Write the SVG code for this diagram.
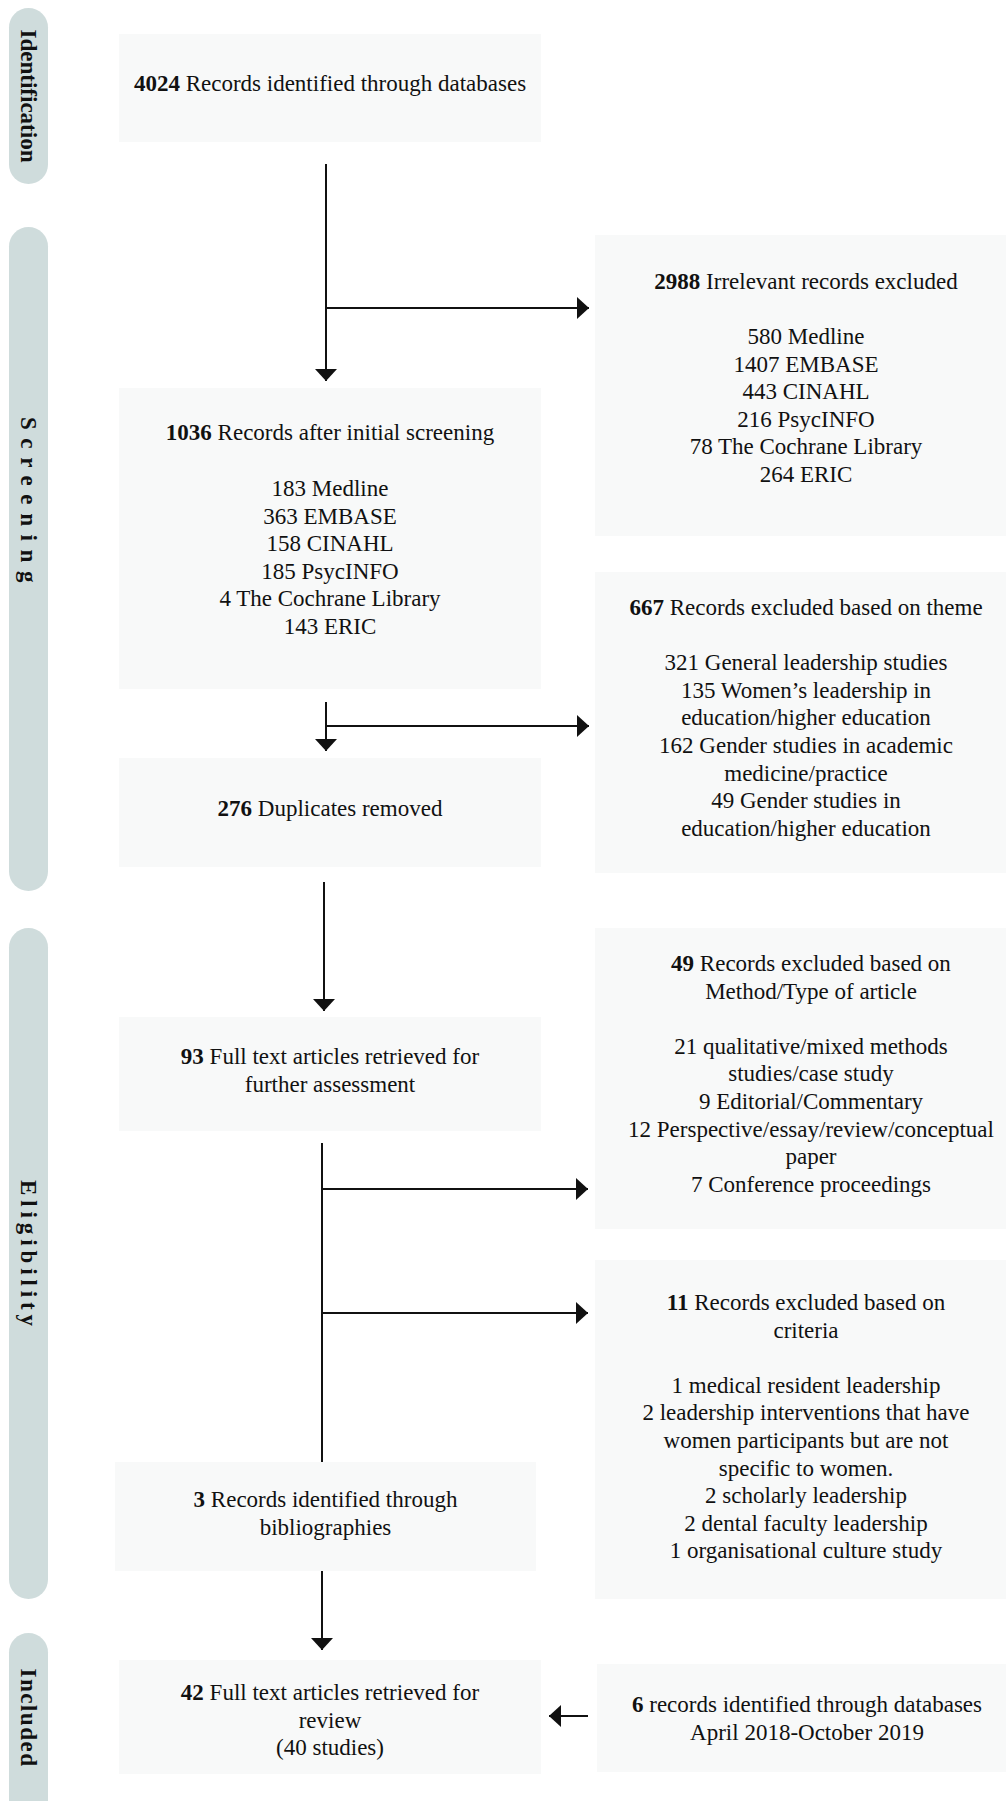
<svg xmlns="http://www.w3.org/2000/svg" width="1006" height="1801" viewBox="0 0 1006 1801">
<style>
.bg{fill:#ffffff}
.pill{fill:#cfdcdc}
.box{fill:#f8f9f9}
text{font-family:"Liberation Serif","Times New Roman",serif;font-size:23px;fill:#111}
.c{text-anchor:middle}
.b{font-weight:bold}
.lbl{font-family:"Liberation Serif","Times New Roman",serif;font-size:23px;font-weight:bold;text-anchor:middle;fill:#111}
.ln{stroke:#111;stroke-width:2;fill:none}
.ah{fill:#111}
</style>
<defs>
<marker id="arr" viewBox="0 0 12 22" refX="12" refY="11" markerWidth="12" markerHeight="22" markerUnits="userSpaceOnUse" orient="auto">
<path d="M0,0 L12,11 L0,22 Z" class="ah"/>
</marker>
</defs>
<rect class="bg" x="0" y="0" width="1006" height="1801"/>

<g id="phase-identification">
<rect class="pill" x="9" y="8" width="39" height="176" rx="19.5"/>
<text class="lbl" transform="translate(29,96) rotate(90)" x="0" y="8">Identification</text>
</g>
<g id="phase-screening">
<rect class="pill" x="9" y="227" width="39" height="664" rx="19.5"/>
<text class="lbl" transform="translate(29,500) rotate(90)" x="4" y="8" letter-spacing="8.6">Screening</text>
</g>
<g id="phase-eligibility">
<rect class="pill" x="9" y="928" width="39" height="671" rx="19.5"/>
<text class="lbl" transform="translate(29,1253) rotate(90)" x="2.5" y="8" letter-spacing="4.9">Eligibility</text>
</g>
<g id="phase-included">
<rect class="pill" x="9" y="1633" width="39" height="190" rx="19.5"/>
<text class="lbl" transform="translate(29,1717) rotate(90)" x="1" y="8" letter-spacing="1.5">Included</text>
</g>

<g id="n-identified">
<rect class="box" x="119" y="34" width="422" height="108"/>
<text class="c" x="330" y="91"><tspan class="b">4024</tspan> Records identified through databases</text>
</g>

<g id="n-irrelevant">
<rect class="box" x="595" y="235" width="411" height="301"/>
<text class="c" x="806" y="289"><tspan class="b">2988</tspan> Irrelevant records excluded</text>
<text class="c" x="806" y="344">580 Medline</text>
<text class="c" x="806" y="372">1407 EMBASE</text>
<text class="c" x="806" y="399">443 CINAHL</text>
<text class="c" x="806" y="427">216 PsycINFO</text>
<text class="c" x="806" y="454">78 The Cochrane Library</text>
<text class="c" x="806" y="482">264 ERIC</text>
</g>

<g id="n-screened">
<rect class="box" x="119" y="388" width="422" height="301"/>
<text class="c" x="330" y="440"><tspan class="b">1036</tspan> Records after initial screening</text>
<text class="c" x="330" y="496">183 Medline</text>
<text class="c" x="330" y="523.6">363 EMBASE</text>
<text class="c" x="330" y="551.2">158 CINAHL</text>
<text class="c" x="330" y="578.8">185 PsycINFO</text>
<text class="c" x="330" y="606.4">4 The Cochrane Library</text>
<text class="c" x="330" y="634">143 ERIC</text>
</g>

<g id="n-theme">
<rect class="box" x="595" y="572" width="411" height="301"/>
<text class="c" x="806" y="615"><tspan class="b">667</tspan> Records excluded based on theme</text>
<text class="c" x="806" y="670.2">321 General leadership studies</text>
<text class="c" x="806" y="697.8">135 Women’s leadership in</text>
<text class="c" x="806" y="725.4">education/higher education</text>
<text class="c" x="806" y="753">162 Gender studies in academic</text>
<text class="c" x="806" y="780.6">medicine/practice</text>
<text class="c" x="806" y="808.2">49 Gender studies in</text>
<text class="c" x="806" y="835.8">education/higher education</text>
</g>

<g id="n-duplicates">
<rect class="box" x="119" y="758" width="422" height="109"/>
<text class="c" x="330" y="816"><tspan class="b">276</tspan> Duplicates removed</text>
</g>

<g id="n-method">
<rect class="box" x="595" y="928" width="411" height="301"/>
<text class="c" x="811" y="971"><tspan class="b">49</tspan> Records excluded based on</text>
<text class="c" x="811" y="998.6">Method/Type of article</text>
<text class="c" x="811" y="1053.8">21 qualitative/mixed methods</text>
<text class="c" x="811" y="1081.4">studies/case study</text>
<text class="c" x="811" y="1109">9 Editorial/Commentary</text>
<text class="c" x="811" y="1136.6">12 Perspective/essay/review/conceptual</text>
<text class="c" x="811" y="1164.2">paper</text>
<text class="c" x="811" y="1191.8">7 Conference proceedings</text>
</g>

<g id="n-fulltext">
<rect class="box" x="119" y="1017" width="422" height="114"/>
<text class="c" x="330" y="1064"><tspan class="b">93</tspan> Full text articles retrieved for</text>
<text class="c" x="330" y="1091.6">further assessment</text>
</g>

<g id="n-criteria">
<rect class="box" x="595" y="1260" width="411" height="339"/>
<text class="c" x="806" y="1310"><tspan class="b">11</tspan> Records excluded based on</text>
<text class="c" x="806" y="1337.6">criteria</text>
<text class="c" x="806" y="1392.8">1 medical resident leadership</text>
<text class="c" x="806" y="1420.4">2 leadership interventions that have</text>
<text class="c" x="806" y="1448">women participants but are not</text>
<text class="c" x="806" y="1475.6">specific to women.</text>
<text class="c" x="806" y="1503.2">2 scholarly leadership</text>
<text class="c" x="806" y="1530.8">2 dental faculty leadership</text>
<text class="c" x="806" y="1558.4">1 organisational culture study</text>
</g>

<g id="n-bibliographies">
<rect class="box" x="115" y="1462" width="421" height="109"/>
<text class="c" x="325.5" y="1507"><tspan class="b">3</tspan> Records identified through</text>
<text class="c" x="325.5" y="1534.6">bibliographies</text>
</g>

<g id="n-included">
<rect class="box" x="119" y="1660" width="422" height="114"/>
<text class="c" x="330" y="1700"><tspan class="b">42</tspan> Full text articles retrieved for</text>
<text class="c" x="330" y="1727.6">review</text>
<text class="c" x="330" y="1755.2">(40 studies)</text>
</g>

<g id="n-update">
<rect class="box" x="597" y="1664" width="409" height="108"/>
<text class="c" x="807" y="1712"><tspan class="b">6</tspan> records identified through databases</text>
<text class="c" x="807" y="1739.6">April 2018-October 2019</text>
</g>

<g id="connectors">
<path class="ln" d="M326,164 V381" marker-end="url(#arr)"/>
<path class="ln" d="M326,308 H589" marker-end="url(#arr)"/>
<path class="ln" d="M326,702 V751" marker-end="url(#arr)"/>
<path class="ln" d="M326,726 H589" marker-end="url(#arr)"/>
<path class="ln" d="M324,882 V1011" marker-end="url(#arr)"/>
<path class="ln" d="M322,1143 V1462"/>
<path class="ln" d="M322,1189 H588" marker-end="url(#arr)"/>
<path class="ln" d="M322,1313 H588" marker-end="url(#arr)"/>
<path class="ln" d="M322,1571 V1650" marker-end="url(#arr)"/>
<path class="ln" d="M588,1716 H549" marker-end="url(#arr)"/>
</g>
</svg>
